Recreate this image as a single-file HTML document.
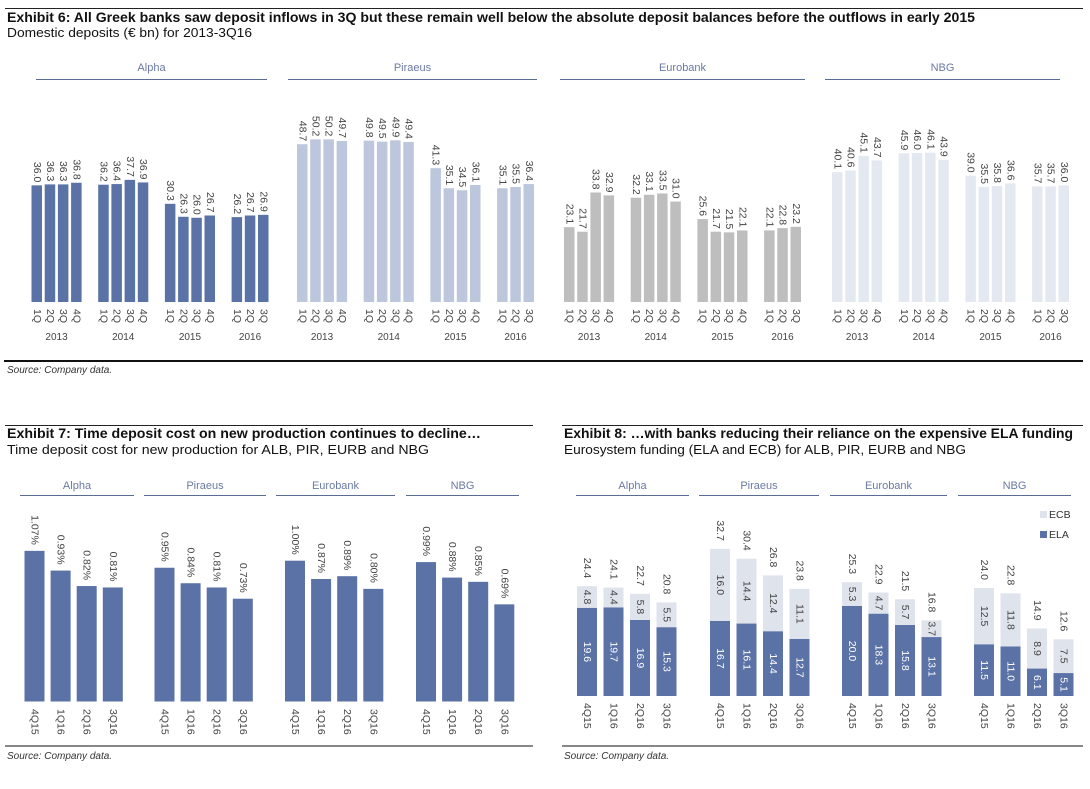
<!DOCTYPE html>
<html><head><meta charset="utf-8">
<style>
html,body{margin:0;padding:0;background:#fff;}
svg{display:block;font-family:"Liberation Sans",Arial,sans-serif;}
</style></head>
<body>
<svg id="c" width="1090" height="789" viewBox="0 0 1090 789" xmlns="http://www.w3.org/2000/svg">
<g id="static">
  <line x1="5" y1="8.5" x2="1083" y2="8.5" stroke="#222" stroke-width="1"/>
  <text x="7" y="22" font-size="13.5" font-weight="bold" fill="#111" textLength="968" lengthAdjust="spacingAndGlyphs">Exhibit 6: All Greek banks saw deposit inflows in 3Q but these remain well below the absolute deposit balances before the outflows in early 2015</text>
  <text x="7" y="37" font-size="12.5" fill="#111" textLength="245" lengthAdjust="spacingAndGlyphs">Domestic deposits (€ bn) for 2013-3Q16</text>
  <line x1="4" y1="361" x2="1083" y2="361" stroke="#111" stroke-width="2"/>
  <text x="7" y="373" font-size="10" font-style="italic" fill="#333">Source: Company data.</text>

  <line x1="5" y1="425.5" x2="533" y2="425.5" stroke="#222" stroke-width="1"/>
  <text x="7" y="438" font-size="13.5" font-weight="bold" fill="#111" textLength="474" lengthAdjust="spacingAndGlyphs">Exhibit 7: Time deposit cost on new production continues to decline…</text>
  <text x="7" y="454" font-size="12.5" fill="#111" textLength="422" lengthAdjust="spacingAndGlyphs">Time deposit cost for new production for ALB, PIR, EURB and NBG</text>
  <line x1="5" y1="746" x2="533" y2="746" stroke="#111" stroke-width="1"/>
  <text x="7" y="759" font-size="10" font-style="italic" fill="#333">Source: Company data.</text>

  <line x1="562" y1="425.5" x2="1083" y2="425.5" stroke="#222" stroke-width="1"/>
  <text x="564" y="438" font-size="13.5" font-weight="bold" fill="#111" textLength="509" lengthAdjust="spacingAndGlyphs">Exhibit 8: …with banks reducing their reliance on the expensive ELA funding</text>
  <text x="564" y="454" font-size="12.5" fill="#111" textLength="402" lengthAdjust="spacingAndGlyphs">Eurosystem funding (ELA and ECB) for ALB, PIR, EURB and NBG</text>
  <line x1="562" y1="746" x2="1083" y2="746" stroke="#111" stroke-width="1"/>
  <text x="564" y="759" font-size="10" font-style="italic" fill="#333">Source: Company data.</text>

  <rect x="1040" y="511" width="7" height="7" fill="#dfe3ec"/>
  <text x="1049" y="518" font-size="10.5" fill="#333">ECB</text>
  <rect x="1040" y="531" width="7" height="7" fill="#5b72a7"/>
  <text x="1049" y="538" font-size="10.5" fill="#333">ELA</text>
</g>
</svg>
<script>
// ---------- Exhibit 6 data ----------
const banks = ["Alpha","Piraeus","Eurobank","NBG"];
const years = ["2013","2014","2015","2016"];
const quarters = ["1Q","2Q","3Q","4Q"];
const alphaDep = [[36.0,36.3,36.3,36.8],[36.2,36.4,37.7,36.9],[30.3,26.3,26.0,26.7],[26.2,26.7,26.9]];
const piraeusDep = [[48.7,50.2,50.2,49.7],[49.8,49.5,49.9,49.4],[41.3,35.1,34.5,36.1],[35.1,35.5,36.4]];
const eurobankDep = [[23.1,21.7,33.8,32.9],[32.2,33.1,33.5,31.0],[25.6,21.7,21.5,22.1],[22.1,22.8,23.2]];
const nbgDep = [[40.1,40.6,45.1,43.7],[45.9,46.0,46.1,43.9],[39.0,35.5,35.8,36.6],[35.7,35.7,36.0]];
// ---------- Exhibit 7 data ----------
const periods = ["4Q15","1Q16","2Q16","3Q16"];
const alphaCost = [1.07,0.93,0.82,0.81];
const piraeusCost = [0.95,0.84,0.81,0.73];
const eurobankCost = [1.00,0.87,0.89,0.80];
const nbgCost = [0.99,0.88,0.85,0.69];
// ---------- Exhibit 8 data ----------
const alphaELA = [19.6,19.7,16.9,15.3];
const alphaECB = [4.8,4.4,5.8,5.5];
const alphaTot = [24.4,24.1,22.7,20.8];
const piraeusELA = [16.7,16.1,14.4,12.7];
const piraeusECB = [16.0,14.4,12.4,11.1];
const piraeusTot = [32.7,30.4,26.8,23.8];
const eurobankELA = [20.0,18.3,15.8,13.1];
const eurobankECB = [5.3,4.7,5.7,3.7];
const eurobankTot = [25.3,22.9,21.5,16.8];
const nbgELA = [11.5,11.0,6.1,5.1];
const nbgECB = [12.5,11.8,8.9,7.5];
const nbgTot = [24.0,22.8,14.9,12.6];

const NS = "http://www.w3.org/2000/svg";
const svg = document.getElementById("c");
function mk(tag, attrs, parent){
  const e = document.createElementNS(NS, tag);
  for (const k in attrs) e.setAttribute(k, attrs[k]);
  (parent||svg).appendChild(e);
  return e;
}
function vtext(x, y, str, anchor, fill, size, parent){
  const t = mk("text", {x:0, y:0, "font-size":size||10.5, fill:fill||"#444", "text-anchor":anchor, "dominant-baseline":"central", transform:"translate("+x+","+y+") rotate(90)"}, parent);
  t.textContent = str;
  return t;
}
function header(name, x1, x2, ty, ly, key){
  const t = mk("text", {x:(x1+x2)/2, y:ty, "font-size":11, fill:"#6b7aa3", "text-anchor":"middle"});
  t.textContent = name;
  
  
  const l = mk("line", {x1:x1, x2:x2, y1:ly, y2:ly, stroke:"#5a6b94", "stroke-width":1});
  
  
}

// ---------- Exhibit 6 ----------
const e6Data = [alphaDep, piraeusDep, eurobankDep, nbgDep];
const e6Colors = ["#5b72a7","#bcc6dd","#bebebe","#e4e9f1"];
const e6Base = 302, e6K = 3.24;
const e6Y = v => e6Base - v*e6K;
const e6PanelX = [31.5, 297, 564, 832];
const e6Hdr = [[36,267],[288,537],[560,805],[825,1060]];
e6Data.forEach((bank, bi) => {
  const key = banks[bi].toLowerCase();
  header(banks[bi], e6Hdr[bi][0], e6Hdr[bi][1], 71, 79.5, 'deposits-' + key);
  const g = mk("g", {});
  
  
  bank.forEach((yr, yi) => {
    const gx = e6PanelX[bi] + yi*66.7;
    yr.forEach((v, qi) => {
      const x = gx + qi*13.2, w = 10.5, top = e6Y(v);
      const r = mk("rect", {x:x, y:top, width:w, height:e6Base-top, fill:e6Colors[bi]}, g);
      
      
      const lt = vtext(x+w/2, top-3, v.toFixed(1), "end", "#444", 10.5, g);
      
      
      const ct = vtext(x+w/2, 309, quarters[qi], "start", "#444", 10.5, g);
      
      
    });
    const n = yr.length;
    const cx = gx + ((n-1)*13.2 + 10.5)/2;
    const yt = mk("text", {x:cx, y:340, "font-size":10, fill:"#444", "text-anchor":"middle"}, g);
    yt.textContent = years[yi];
    
    
  });
});

// ---------- Exhibit 7 ----------
const e7Data = [alphaCost, piraeusCost, eurobankCost, nbgCost];
const e7Base = 701.5, e7K = 140.8;
const e7Y = v => e7Base - v*e7K;
const e7PanelX = [24.5, 154.5, 285, 416];
const e7Hdr = [[20,134],[144,266],[276,395],[406,519]];
e7Data.forEach((bank, bi) => {
  const key = banks[bi].toLowerCase();
  header(banks[bi], e7Hdr[bi][0], e7Hdr[bi][1], 489, 495.5, 'cost-' + key);
  const g = mk("g", {});
  
  
  bank.forEach((v, i) => {
    const x = e7PanelX[bi] + i*26.1, w = 20, top = e7Y(v);
    const r = mk("rect", {x:x, y:top, width:w, height:e7Base-top, fill:"#5b72a7"}, g);
    
    
    const lt = vtext(x+w/2, top-6, v.toFixed(2)+"%", "end", "#444", 10.5, g);
    
    
    const ct = vtext(x+w/2, 709, periods[i], "start", "#444", 10.5, g);
    
    
  });
});

// ---------- Exhibit 8 ----------
const e8ELA = [alphaELA, piraeusELA, eurobankELA, nbgELA];
const e8ECB = [alphaECB, piraeusECB, eurobankECB, nbgECB];
const e8Tot = [alphaTot, piraeusTot, eurobankTot, nbgTot];
const e8Base = 696, e8K = 4.5;
const e8Y = v => e8Base - v*e8K;
const e8PanelX = [577, 710, 842, 974];
const e8Hdr = [[576,689],[699,819],[830,947],[958,1071]];
e8ELA.forEach((ela, bi) => {
  const key = banks[bi].toLowerCase();
  header(banks[bi], e8Hdr[bi][0], e8Hdr[bi][1], 489, 495.5, 'funding-' + key);
  const g = mk("g", {});
  
  
  ela.forEach((v, i) => {
    const ecb = e8ECB[bi][i], tot = e8Tot[bi][i];
    const x = e8PanelX[bi] + i*26.5, w = 20;
    const yEla = e8Y(v), yTop = e8Y(v + ecb);
    const r1 = mk("rect", {x:x, y:yEla, width:w, height:e8Base-yEla, fill:"#5b72a7"}, g);
    
    
    const r2 = mk("rect", {x:x, y:yTop, width:w, height:yEla-yTop, fill:"#dfe3ec"}, g);
    
    
    const l1 = vtext(x+w/2, (yEla+e8Base)/2, v.toFixed(1), "middle", "#fff", 10.5, g);
    
    
    const l2 = vtext(x+w/2, (yTop+yEla)/2, ecb.toFixed(1), "middle", "#444", 10.5, g);
    
    
    const l3 = vtext(x+w/2, yTop-8, tot.toFixed(1), "end", "#444", 10.5, g);
    
    
    const ct = vtext(x+w/2, 703, periods[i], "start", "#444", 10.5, g);
    
    
  });
});
</script>
</body></html>
